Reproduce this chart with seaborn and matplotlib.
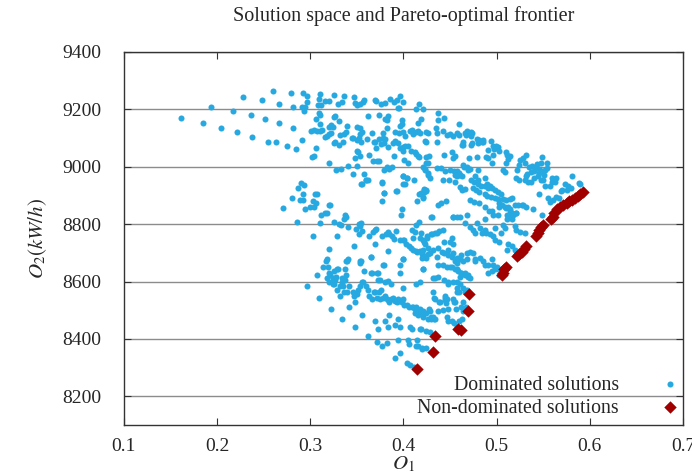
import matplotlib
matplotlib.use("Agg")
import matplotlib.pyplot as plt
import seaborn as sns
import pandas as pd

# ----------------------------
# Data (O1, O2 in kW/h)
# ----------------------------
# upper band of dominated solutions
DOMINATED_TOP = [
    (0.161, 9170), (0.185, 9153), (0.194, 9209), (0.204, 9136), (0.217, 9195), (0.221, 9122),
    (0.228, 9243), (0.236, 9181), (0.237, 9104), (0.248, 9233), (0.251, 9167), (0.255, 9087),
    (0.260, 9264), (0.263, 9087), (0.266, 9219), (0.266, 9153), (0.275, 9073), (0.279, 9257),
    (0.281, 9209), (0.282, 9136), (0.285, 9063), (0.291, 9094), (0.292, 9257), (0.296, 9247),
    (0.296, 9226), (0.291, 9209), (0.294, 9209), (0.293, 9195), (0.306, 9167), (0.306, 9066),
    (0.302, 9035), (0.304, 9037), (0.308, 9216), (0.312, 9214), (0.310, 9254), (0.309, 9237),
    (0.311, 9150), (0.309, 9188), (0.311, 9181), (0.301, 9125), (0.304, 9128), (0.307, 9125),
    (0.310, 9125), (0.313, 9128), (0.320, 9139), (0.316, 9104), (0.318, 9108), (0.320, 9014),
    (0.316, 9230), (0.320, 9230), (0.325, 9250), (0.330, 9219), (0.325, 9174), (0.327, 9177),
    (0.322, 9146), (0.324, 9139), (0.331, 9160), (0.322, 9118), (0.320, 9115), (0.327, 9087),
    (0.331, 9077), (0.335, 9087), (0.336, 9247), (0.334, 9226), (0.339, 9143), (0.338, 9122),
    (0.336, 9115), (0.332, 9111), (0.340, 9004), (0.333, 8993), (0.328, 8990), (0.347, 9243),
    (0.348, 9223), (0.350, 9216), (0.353, 9219), (0.358, 9233), (0.357, 9226), (0.345, 9101),
    (0.350, 9139), (0.353, 9136), (0.353, 9115), (0.352, 9101), (0.350, 9094), (0.355, 9122),
    (0.354, 9087), (0.350, 9056), (0.351, 9051), (0.353, 9038), (0.346, 8976), (0.354, 8938),
    (0.360, 8955), (0.358, 8976), (0.362, 9177), (0.361, 9097), (0.363, 9042), (0.367, 9021),
    (0.366, 9118), (0.369, 9233), (0.371, 9230), (0.368, 9087), (0.370, 9087), (0.371, 9066),
    (0.374, 9021), (0.374, 9181), (0.374, 9097), (0.376, 9080), (0.376, 9219), (0.380, 9223),
    (0.378, 9118), (0.378, 9101), (0.379, 9083), (0.380, 9097), (0.377, 8948), (0.379, 8909),
    (0.379, 8990), (0.382, 9163), (0.383, 9177), (0.382, 9136), (0.385, 8993), (0.386, 9237),
    (0.388, 9000), (0.383, 9070), (0.390, 9038), (0.389, 9083), (0.391, 9090), (0.390, 9226),
    (0.393, 9233), (0.391, 9122), (0.395, 9118), (0.394, 9083), (0.392, 8916), (0.396, 9247),
    (0.395, 9205), (0.396, 9143), (0.398, 9150), (0.398, 9164), (0.400, 9226), (0.400, 8966),
    (0.404, 8959), (0.400, 8938), (0.400, 9122), (0.402, 9108), (0.405, 9014), (0.396, 9066),
    (0.400, 9070), (0.402, 9073), (0.405, 9073), (0.399, 9056), (0.407, 9125), (0.409, 9129),
    (0.410, 9115), (0.412, 9052), (0.414, 9045), (0.414, 9122), (0.416, 9125), (0.417, 9219),
    (0.414, 9202), (0.421, 9202), (0.416, 9153), (0.419, 9167), (0.418, 9118), (0.424, 9122),
    (0.426, 9118), (0.423, 9090), (0.424, 9087), (0.417, 9035), (0.424, 9035), (0.427, 9038),
    (0.423, 8993), (0.426, 8979), (0.422, 8923), (0.419, 8909), (0.380, 9167), (0.326, 9083),
    (0.346, 9101), (0.348, 9031), (0.350, 9004), (0.360, 8952), (0.372, 9021), (0.382, 9000),
    (0.401, 9024), (0.421, 9000), (0.424, 9014), (0.411, 8955), (0.428, 8959), (0.416, 9038),
    (0.408, 9056), (0.394, 9205), (0.437, 9188), (0.444, 9170), (0.437, 9164), (0.435, 9136),
    (0.436, 9118), (0.436, 9087), (0.442, 9125), (0.443, 9042), (0.447, 9111), (0.450, 9115),
    (0.453, 9108), (0.452, 9052), (0.453, 9031), (0.455, 9038), (0.457, 9118), (0.460, 9111),
    (0.460, 9150), (0.463, 9076), (0.466, 9118), (0.464, 9087), (0.470, 9031), (0.471, 9115),
    (0.473, 9122), (0.474, 9083), (0.479, 9097), (0.480, 9083), (0.484, 9087), (0.489, 9035),
    (0.491, 9059), (0.479, 9035), (0.494, 9090), (0.496, 9073), (0.497, 9063), (0.499, 9073),
    (0.495, 9014), (0.480, 8990), (0.465, 9000), (0.471, 8993), (0.477, 8966), (0.480, 8955),
    (0.487, 8959), (0.490, 8941), (0.493, 8934), (0.468, 9125), (0.467, 9111), (0.474, 9118),
    (0.473, 9108), (0.464, 9077), (0.473, 9077), (0.481, 9094), (0.485, 9087), (0.501, 9070),
    (0.503, 9056), (0.496, 9042), (0.491, 9031), (0.510, 9052), (0.511, 9042), (0.514, 9038),
    (0.512, 9028), (0.510, 9014), (0.507, 8990), (0.509, 8983), (0.525, 9024), (0.528, 9031),
    (0.531, 9042), (0.530, 9014), (0.524, 9007), (0.535, 9000), (0.538, 9004), (0.541, 8997),
    (0.543, 9010), (0.545, 8993), (0.540, 8986), (0.537, 8983), (0.546, 8979), (0.549, 8986),
    (0.552, 8990), (0.554, 8997), (0.551, 8972), (0.544, 8966), (0.540, 8962), (0.548, 8955),
    (0.533, 8976), (0.531, 8969), (0.522, 8990), (0.521, 8962), (0.524, 8955), (0.530, 8952),
    (0.534, 8945), (0.537, 8948), (0.581, 8966), (0.589, 8938), (0.561, 8955), (0.559, 8945),
    (0.557, 8934), (0.552, 8934), (0.550, 8952), (0.573, 8938), (0.577, 8934), (0.580, 8927),
    (0.576, 8920), (0.570, 8920), (0.569, 8916), (0.567, 8892), (0.564, 8895), (0.560, 8885),
    (0.557, 8878), (0.545, 8906), (0.555, 8892), (0.559, 8962), (0.549, 9035), (0.554, 9014),
    (0.548, 9014), (0.564, 8962), (0.563, 8945), (0.485, 9094), (0.588, 8944),
]

# middle band of dominated solutions
DOMINATED_MID = [
    (0.287, 8927), (0.290, 8944), (0.293, 8937), (0.271, 8857), (0.286, 8809), (0.280, 8892),
    (0.292, 8906), (0.289, 8885), (0.292, 8885), (0.294, 8851), (0.300, 8858), (0.304, 8858),
    (0.303, 8882), (0.306, 8875), (0.305, 8906), (0.307, 8906), (0.312, 8833), (0.316, 8840),
    (0.318, 8840), (0.320, 8868), (0.321, 8868), (0.311, 8805), (0.303, 8760), (0.320, 8715),
    (0.329, 8760), (0.326, 8809), (0.331, 8802), (0.333, 8798), (0.337, 8830), (0.338, 8823),
    (0.336, 8816), (0.341, 8791), (0.347, 8722), (0.349, 8784), (0.353, 8795), (0.354, 8805),
    (0.352, 8802), (0.356, 8777), (0.352, 8767), (0.363, 8760), (0.367, 8774), (0.370, 8781),
    (0.371, 8784), (0.369, 8732), (0.365, 8687), (0.354, 8670), (0.377, 8760), (0.381, 8767),
    (0.383, 8774), (0.385, 8764), (0.388, 8760), (0.390, 8749), (0.379, 8659), (0.383, 8705),
    (0.392, 8777), (0.396, 8746), (0.399, 8743), (0.401, 8746), (0.403, 8729), (0.406, 8722),
    (0.408, 8718), (0.410, 8711), (0.413, 8708), (0.415, 8704), (0.418, 8708), (0.420, 8697),
    (0.423, 8690), (0.424, 8683), (0.426, 8697), (0.400, 8677), (0.409, 8781), (0.410, 8753),
    (0.415, 8882), (0.417, 8906), (0.421, 8896), (0.422, 8910), (0.424, 8920), (0.398, 8851),
    (0.397, 8830), (0.393, 8916), (0.402, 8938), (0.399, 8969), (0.404, 8962), (0.377, 8944),
    (0.379, 8909), (0.377, 8882), (0.362, 8955), (0.356, 8938), (0.422, 8739), (0.425, 8753),
    (0.430, 8823), (0.417, 8809), (0.414, 8798), (0.412, 8774), (0.419, 8770), (0.431, 8764),
    (0.434, 8770), (0.438, 8777), (0.440, 8875), (0.437, 8865), (0.446, 8882), (0.431, 8826),
    (0.453, 8826), (0.461, 8826), (0.422, 8920), (0.424, 8916), (0.421, 8892), (0.426, 9014),
    (0.423, 8990), (0.426, 8972), (0.436, 8997), (0.440, 8997), (0.445, 8986), (0.450, 8990),
    (0.454, 8986), (0.457, 8986), (0.460, 8979), (0.455, 8972), (0.458, 8969), (0.461, 8972),
    (0.463, 8966), (0.442, 8955), (0.449, 8955), (0.455, 8948), (0.464, 9007), (0.468, 9000),
    (0.469, 8990), (0.473, 8955), (0.476, 8948), (0.480, 8941), (0.483, 8934), (0.488, 8934),
    (0.491, 8927), (0.495, 8924), (0.498, 8920), (0.502, 8913), (0.505, 8906), (0.475, 8924),
    (0.478, 8920), (0.481, 8913), (0.487, 8906), (0.490, 8899), (0.494, 8895), (0.498, 8892),
    (0.502, 8888), (0.507, 8888), (0.510, 8885), (0.514, 8888), (0.517, 8892), (0.463, 8920),
    (0.461, 8930), (0.466, 8923), (0.471, 8885), (0.476, 8878), (0.481, 8875), (0.488, 8858),
    (0.492, 8844), (0.503, 8875), (0.506, 8865), (0.510, 8855), (0.514, 8844), (0.517, 8837),
    (0.521, 8837), (0.527, 8868), (0.532, 8858), (0.539, 8851), (0.453, 8823), (0.458, 8823),
    (0.468, 8833), (0.479, 8805), (0.482, 8788), (0.475, 8781), (0.477, 8770), (0.484, 8770),
    (0.487, 8781), (0.489, 8770), (0.493, 8764), (0.498, 8788), (0.496, 8757), (0.498, 8746),
    (0.503, 8739), (0.505, 8770), (0.502, 8833), (0.503, 8861), (0.511, 8833), (0.513, 8823),
    (0.516, 8816), (0.518, 8830), (0.521, 8840), (0.523, 8868), (0.520, 8868), (0.512, 8861),
    (0.509, 8858), (0.514, 8851), (0.528, 8868), (0.549, 8833), (0.507, 8798), (0.511, 8816),
    (0.509, 8788), (0.520, 8795), (0.521, 8781), (0.525, 8774), (0.530, 8770), (0.512, 8729),
    (0.516, 8722), (0.520, 8711), (0.511, 8711), (0.525, 8694), (0.466, 8805), (0.471, 8791),
    (0.487, 8816), (0.495, 8844), (0.496, 8833), (0.418, 8753), (0.421, 8746), (0.425, 8757),
    (0.430, 8764), (0.436, 8770), (0.442, 8781), (0.423, 8729), (0.426, 8718), (0.432, 8711),
    (0.437, 8718), (0.441, 8704), (0.444, 8701), (0.448, 8694), (0.452, 8687), (0.453, 8701),
    (0.457, 8683), (0.461, 8677), (0.462, 8694), (0.468, 8701), (0.471, 8704), (0.475, 8701),
    (0.464, 8670), (0.455, 8670), (0.450, 8736), (0.453, 8729), (0.452, 8753), (0.444, 8736),
    (0.448, 8711), (0.436, 8687), (0.428, 8701), (0.421, 8711), (0.420, 8683), (0.421, 8642),
    (0.437, 8659), (0.442, 8659), (0.450, 8649), (0.455, 8642), (0.459, 8635), (0.462, 8631),
    (0.466, 8624), (0.469, 8617), (0.471, 8614), (0.461, 8617), (0.434, 8614), (0.477, 8677),
    (0.482, 8683), (0.485, 8670), (0.487, 8659), (0.491, 8659), (0.495, 8677), (0.496, 8659),
    (0.500, 8652), (0.498, 8642), (0.495, 8635), (0.491, 8631), (0.502, 8642), (0.503, 8624),
]

# lower band of dominated solutions
DOMINATED_LOW = [
    (0.297, 8586), (0.307, 8624), (0.309, 8544), (0.314, 8652), (0.317, 8670), (0.318, 8680),
    (0.319, 8652), (0.320, 8631), (0.326, 8638), (0.330, 8642), (0.328, 8617), (0.324, 8614),
    (0.334, 8614), (0.337, 8607), (0.338, 8670), (0.340, 8677), (0.318, 8614), (0.322, 8506),
    (0.334, 8471), (0.353, 8666), (0.358, 8635), (0.365, 8628), (0.372, 8628), (0.373, 8607),
    (0.380, 8600), (0.383, 8603), (0.387, 8593), (0.396, 8659), (0.399, 8579), (0.414, 8590),
    (0.342, 8513), (0.348, 8527), (0.348, 8443), (0.362, 8412), (0.372, 8391), (0.377, 8374),
    (0.382, 8385), (0.391, 8332), (0.396, 8350), (0.404, 8318), (0.407, 8311), (0.411, 8304),
    (0.373, 8433), (0.383, 8440), (0.394, 8398), (0.405, 8398), (0.406, 8384), (0.413, 8377),
    (0.416, 8374), (0.420, 8370), (0.424, 8367), (0.391, 8450), (0.407, 8443), (0.409, 8436),
    (0.418, 8436), (0.419, 8433), (0.424, 8429), (0.428, 8426), (0.412, 8492), (0.416, 8482),
    (0.421, 8478), (0.426, 8471), (0.430, 8468), (0.433, 8471), (0.432, 8562), (0.433, 8541),
    (0.438, 8527), (0.445, 8537), (0.446, 8524), (0.448, 8503), (0.437, 8496), (0.442, 8500),
    (0.447, 8475), (0.448, 8464), (0.452, 8461), (0.454, 8454), (0.457, 8443), (0.459, 8436),
    (0.463, 8471), (0.460, 8461), (0.321, 8621), (0.320, 8597), (0.324, 8590), (0.323, 8600),
    (0.327, 8607), (0.329, 8642), (0.326, 8593), (0.332, 8586), (0.329, 8572), (0.334, 8597),
    (0.335, 8583), (0.338, 8624), (0.337, 8642), (0.339, 8673), (0.332, 8548), (0.336, 8562),
    (0.339, 8565), (0.342, 8583), (0.346, 8562), (0.347, 8548), (0.350, 8555), (0.351, 8572),
    (0.353, 8586), (0.355, 8597), (0.357, 8600), (0.360, 8583), (0.362, 8572), (0.363, 8548),
    (0.366, 8538), (0.368, 8562), (0.370, 8565), (0.374, 8562), (0.376, 8572), (0.372, 8544),
    (0.375, 8538), (0.378, 8544), (0.380, 8548), (0.382, 8538), (0.384, 8531), (0.385, 8527),
    (0.387, 8538), (0.389, 8544), (0.391, 8531), (0.393, 8527), (0.394, 8538), (0.396, 8531),
    (0.398, 8527), (0.400, 8538), (0.401, 8520), (0.404, 8520), (0.406, 8513), (0.409, 8510),
    (0.410, 8513), (0.412, 8503), (0.414, 8510), (0.416, 8496), (0.418, 8503), (0.420, 8492),
    (0.421, 8496), (0.424, 8492), (0.427, 8503), (0.428, 8496), (0.430, 8478), (0.432, 8475),
    (0.434, 8468), (0.355, 8485), (0.369, 8461), (0.380, 8461), (0.385, 8485), (0.394, 8468),
    (0.396, 8440), (0.454, 8527), (0.456, 8503), (0.464, 8527), (0.467, 8510), (0.464, 8496),
    (0.466, 8562), (0.464, 8579), (0.457, 8562), (0.468, 8572), (0.469, 8624), (0.466, 8631),
    (0.462, 8631), (0.457, 8642), (0.452, 8649), (0.447, 8652), (0.458, 8666), (0.468, 8677),
    (0.477, 8670), (0.353, 8670), (0.365, 8687), (0.366, 8631), (0.373, 8631), (0.375, 8607),
    (0.378, 8659), (0.396, 8628), (0.399, 8677), (0.421, 8642), (0.432, 8614), (0.437, 8617),
    (0.444, 8607), (0.448, 8600), (0.453, 8600), (0.457, 8597), (0.461, 8590), (0.434, 8538),
    (0.439, 8527), (0.445, 8544), (0.418, 8597), (0.448, 8590), (0.445, 8548), (0.447, 8538),
    (0.453, 8538), (0.455, 8527), (0.458, 8579), (0.460, 8565), (0.462, 8513), (0.415, 8398),
    (0.420, 8364),
]

# Pareto-optimal frontier
NON_DOMINATED = [
    (0.593, 8913), (0.590, 8906), (0.587, 8899), (0.584, 8892), (0.581, 8885), (0.578, 8880),
    (0.575, 8875), (0.571, 8868), (0.568, 8861), (0.565, 8851), (0.562, 8840), (0.560, 8826),
    (0.558, 8819), (0.550, 8798), (0.548, 8789), (0.546, 8781), (0.544, 8770), (0.542, 8760),
    (0.531, 8722), (0.529, 8715), (0.527, 8704), (0.524, 8697), (0.522, 8690), (0.510, 8652),
    (0.508, 8642), (0.507, 8631), (0.506, 8624), (0.470, 8558), (0.469, 8496), (0.462, 8430),
    (0.459, 8433), (0.434, 8412), (0.432, 8355), (0.415, 8297),
]

LABEL_DOM = "Dominated solutions"
LABEL_ND = "Non-dominated solutions"
BLUE = "#25A9E0"
RED = "#A00000"

dom = pd.DataFrame(DOMINATED_TOP + DOMINATED_MID + DOMINATED_LOW, columns=["O1", "O2"])
nd = pd.DataFrame(NON_DOMINATED, columns=["O1", "O2"])

sns.set_theme(style="white")
plt.rcParams["font.family"] = ["Liberation Serif", "DejaVu Serif"]
plt.rcParams["mathtext.fontset"] = "stix"

fig = plt.figure(figsize=(6.92, 4.75), dpi=100)
ax = fig.add_axes([0.179, 0.105, 0.808, 0.786])

sns.scatterplot(data=dom, x="O1", y="O2", ax=ax, color=BLUE, marker="o",
                s=19, linewidth=0, label=LABEL_DOM, zorder=3)
sns.scatterplot(data=nd, x="O1", y="O2", ax=ax, color=RED, marker="D",
                s=40, linewidth=0, label=LABEL_ND, zorder=4)

ax.set_xlim(0.1, 0.7)
ax.set_ylim(8100, 9400)
ax.set_xticks([0.1, 0.2, 0.3, 0.4, 0.5, 0.6, 0.7])
ax.set_yticks([8200, 8400, 8600, 8800, 9000, 9200, 9400])
ax.set_xticklabels(["0.1", "0.2", "0.3", "0.4", "0.5", "0.6", "0.7"])

ax.grid(axis="y", color="#8c8c8c", linewidth=1.0)
ax.set_axisbelow(True)
for sp in ax.spines.values():
    sp.set_color("#333333")
    sp.set_linewidth(1.0)

ax.tick_params(direction="in", length=5, width=0.8, color="#333333",
               top=True, right=True, bottom=True, left=True, labelsize=14)
ax.tick_params(axis="y", pad=16)
ax.tick_params(axis="x", pad=9)

ax.set_title("Solution space and Pareto-optimal frontier", fontsize=14.5, pad=22)
ax.set_xlabel("$O_1$", fontsize=15, labelpad=0)
ax.set_ylabel("$O_2(kW/h)$", fontsize=15, labelpad=10)

ax.legend(loc="lower right", bbox_to_anchor=(0.995, 0.02), frameon=False,
          markerfirst=False, fontsize=14.3, handlelength=1.0, handletextpad=2.1,
          labelspacing=0.2, borderaxespad=0, borderpad=0)

fig.savefig("out.png", dpi=100)
